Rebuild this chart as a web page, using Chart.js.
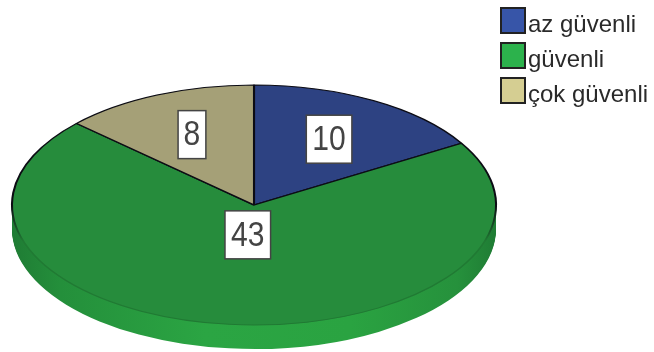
<!DOCTYPE html>
<html>
<head>
<meta charset="utf-8">
<style>
html,body{margin:0;padding:0;background:#fff;overflow:hidden}
#wrap{width:654px;height:352px}
canvas{display:block;filter:blur(0.55px)}
</style>
<script src="https://cdn.jsdelivr.net/npm/chart.js@4"></script>
</head>
<body>
<div id="wrap"><canvas id="c" width="654" height="352"></canvas></div>
<script>
const categories = ['az güvenli', 'güvenli', 'çok güvenli'];
const values = [10, 43, 8];
const sliceColors = ['#2d4282', '#268c3c', '#a5a077'];
const legendColors = ['#3755a8', '#2cb24c', '#d5ce92'];
const labelRadiusFractions = [0.63, 0.25, 0.64];

const FONT = '"Liberation Sans", Arial, sans-serif';
const center = {x: 254, y: 205}, radii = {x: 242, y: 120}, depth = 24;

function squash(ctx, arc) {
  ctx.translate(center.x, center.y);
  ctx.scale(radii.x / arc.outerRadius, radii.y / arc.outerRadius);
  ctx.translate(-arc.x, -arc.y);
}

const pie3d = {
  id: 'pie3d',
  beforeDatasetsDraw(chart) {
    const ctx = chart.ctx, arcs = chart.getDatasetMeta(0).data, arc = arcs[0];
    ctx.save();
    squash(ctx, arc);
    const sx = radii.x / arc.outerRadius, sy = radii.y / arc.outerRadius;
    const px = v => (v - center.x) / sx + arc.x;
    const g = ctx.createLinearGradient(px(12), 0, px(496), 0);
    g.addColorStop(0, '#1f7c34');
    g.addColorStop(0.1, '#248f3b');
    g.addColorStop(0.4, '#2ba543');
    g.addColorStop(0.7, '#2aa341');
    g.addColorStop(0.92, '#26913c');
    g.addColorStop(1, '#1f7c34');
    const wall = Object.create(arcs[1]);
    wall.options = Object.assign({}, arcs[1].options, {backgroundColor: g, borderWidth: 0});
    for (let d = depth; d >= 1; d--) {
      ctx.save();
      ctx.translate(0, d / sy);
      wall.draw(ctx);
      ctx.restore();
    }
  },
  afterDatasetsDraw(chart) {
    const ctx = chart.ctx, arcs = chart.getDatasetMeta(0).data;
    ctx.restore();
    // value labels
    ctx.save();
    ctx.font = '32px ' + FONT;
    ctx.textAlign = 'center';
    ctx.textBaseline = 'middle';
    arcs.forEach((a, i) => {
      const mid = (a.startAngle + a.endAngle) / 2;
      const f = labelRadiusFractions[i];
      const x = center.x + Math.cos(mid) * radii.x * f;
      const y = center.y + Math.sin(mid) * radii.y * f;
      const txt = String(values[i]);
      const w = ctx.measureText(txt).width + 10, h = 48;
      ctx.fillStyle = '#fff';
      ctx.strokeStyle = '#444';
      ctx.lineWidth = 1.5;
      ctx.fillRect(x - w / 2, y - h / 2, w, h);
      ctx.strokeRect(x - w / 2, y - h / 2, w, h);
      ctx.save();
      ctx.translate(x, y + 1);
      ctx.scale(0.94, 1.1);
      ctx.fillStyle = '#444';
      ctx.fillText(txt, 0, 0);
      ctx.restore();
    });
    ctx.restore();
    // legend
    ctx.save();
    ctx.font = '24px ' + FONT;
    ctx.textAlign = 'left';
    ctx.textBaseline = 'middle';
    categories.forEach((name, i) => {
      const top = 8 + i * 35;
      ctx.fillStyle = legendColors[i];
      ctx.fillRect(501, top, 24, 25);
      ctx.strokeStyle = '#222';
      ctx.lineWidth = 2;
      ctx.strokeRect(501, top, 24, 25);
      ctx.fillStyle = '#2a2a2a';
      ctx.fillText(name, 528, top + 17);
    });
    ctx.restore();
  }
};

new Chart(document.getElementById('c'), {
  type: 'pie',
  data: {
    labels: categories,
    datasets: [{
      data: values,
      backgroundColor: sliceColors,
      borderColor(c) {
        if (c.dataIndex !== 1) return '#0c0c14';
        const ca = c.chart.chartArea;
        if (!ca) return '#111';
        const cy = (ca.top + ca.bottom) / 2, R = Math.min(ca.width, ca.height) / 2;
        const g = c.chart.ctx.createLinearGradient(0, cy, 0, cy + R * 0.3);
        g.addColorStop(0, '#0c0c14');
        g.addColorStop(1, '#207a33');
        return g;
      },
      borderWidth: 1.5
    }]
  },
  options: {
    responsive: false,
    animation: false,
    events: [],
    rotation: 0,
    layout: {padding: 0},
    plugins: {legend: {display: false}, tooltip: {enabled: false}}
  },
  plugins: [pie3d]
});
</script>
</body>
</html>
